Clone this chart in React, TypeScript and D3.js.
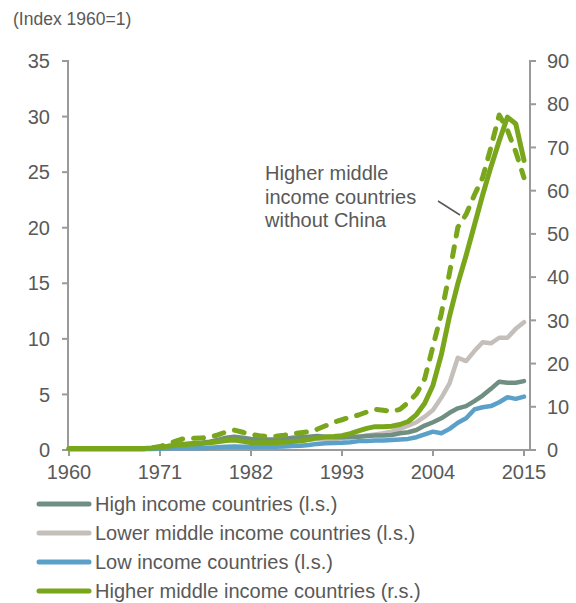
import React from "react";
import * as d3 from "d3";

const years = d3.range(1960, 2016);

// left scale (index 1960=1)
const highIncome = [
  0.1, 0.1, 0.1, 0.1, 0.1, 0.1, 0.1, 0.1, 0.1, 0.1,
  0.15, 0.2, 0.3, 0.45, 0.55, 0.6, 0.65, 0.75, 0.9, 1.1,
  1.2, 1.1, 1.0, 0.95, 0.95, 0.95, 1.0, 1.1, 1.15, 1.2,
  1.25, 1.2, 1.15, 1.15, 1.2, 1.2, 1.25, 1.3, 1.3, 1.35,
  1.5, 1.6, 1.8, 2.2, 2.5, 2.85, 3.35, 3.75, 3.95, 4.4,
  4.9, 5.5, 6.15, 6.05, 6.05, 6.2,
];
const lowerMiddle = [
  0.1, 0.1, 0.1, 0.1, 0.1, 0.1, 0.1, 0.1, 0.1, 0.1,
  0.15, 0.2, 0.3, 0.4, 0.5, 0.55, 0.6, 0.7, 0.8, 0.9,
  1.0, 0.9, 0.85, 0.8, 0.8, 0.8, 0.8, 0.85, 0.9, 0.95,
  1.0, 1.0, 1.0, 1.05, 1.1, 1.2, 1.3, 1.4, 1.5, 1.65,
  1.9, 2.2, 2.5, 3.0, 3.6, 4.7, 6.0, 8.3, 8.0, 8.9,
  9.7, 9.6, 10.1, 10.1, 10.9, 11.5,
];
const lowIncome = [
  0.1, 0.1, 0.1, 0.1, 0.1, 0.1, 0.1, 0.1, 0.1, 0.1,
  0.1, 0.12, 0.15, 0.15, 0.15, 0.15, 0.15, 0.2, 0.25, 0.3,
  0.32, 0.3, 0.3, 0.3, 0.3, 0.3, 0.32, 0.35, 0.38, 0.45,
  0.55, 0.6, 0.62, 0.65, 0.7, 0.8, 0.82, 0.85, 0.85, 0.9,
  0.95, 1.0, 1.15, 1.4, 1.65, 1.5, 1.9, 2.45, 2.85, 3.65,
  3.85, 3.95, 4.3, 4.75, 4.6, 4.8,
];
// right scale
const higherMiddle = [
  0.35, 0.35, 0.35, 0.35, 0.35, 0.35, 0.35, 0.35, 0.35, 0.35,
  0.45, 0.6, 0.9, 1.1, 1.3, 1.4, 1.5, 1.7, 1.9, 2.2,
  2.3, 2.0, 1.7, 1.7, 1.7, 1.75, 1.8, 1.95, 2.1, 2.4,
  2.8, 3.0, 3.1, 3.3, 3.8, 4.4, 5.0, 5.4, 5.4, 5.5,
  5.9, 6.6, 8.2, 10.8, 15.0, 22, 31, 38.5, 45, 52,
  59, 65.5, 71.5, 77, 75.5, 67,
];
const higherMiddleExChina = [
  0.35, 0.35, 0.35, 0.35, 0.35, 0.35, 0.35, 0.35, 0.35, 0.35,
  0.5, 0.8, 1.4, 2.1, 2.7, 2.7, 2.8, 2.9, 3.5, 4.2,
  4.6, 4.1, 3.6, 3.3, 3.1, 3.2, 3.4, 3.8, 4.0, 4.2,
  4.8, 5.6, 6.4, 7.0, 7.6, 8.1, 8.8, 9.4, 9.2, 8.9,
  9.4, 11.0, 13.0, 16.5, 24, 31.5, 41, 51.5, 54.5, 59,
  63, 70, 77.5, 74, 69, 63,
];

const xTicks = [1960, 1971, 1982, 1993, 2004, 2015];
const leftTicks = [0, 5, 10, 15, 20, 25, 30, 35];
const rightTicks = [0, 10, 20, 30, 40, 50, 60, 70, 80, 90];

const legendLabels = [
  "High income countries (l.s.)",
  "Lower middle income countries (l.s.)",
  "Low income countries (l.s.)",
  "Higher middle income countries (r.s.)",
];
const annotation = ["Higher middle", "income countries", "without China"];

const colors = ["#718e82", "#c4bfba", "#5ba0c8", "#79a61b"];
const textColor = "#595959";
const axisColor = "#9a9a9a";
const font = "'Liberation Sans', Arial, sans-serif";

export default function App() {
  const x = d3.scaleLinear().domain([1960, 2015]).range([69, 524]);
  const yL = d3.scaleLinear().domain([0, 35]).range([450, 61]);
  const yR = d3.scaleLinear().domain([0, 90]).range([450, 61]);

  const lineL = d3
    .line<number>()
    .x((_, i) => x(years[i]))
    .y((d) => yL(d));
  const lineR = d3
    .line<number>()
    .x((_, i) => x(years[i]))
    .y((d) => yR(d));

  const left = [highIncome, lowerMiddle, lowIncome];
  const order = [1, 0, 2];

  return (
    <>
      <style>{`body{margin:0}`}</style>
      <svg width={576} height={603} style={{ display: "block" }} fontFamily={font}>
        <rect width={576} height={603} fill="#fff" />
        <text x={13} y={25} fontSize={17.5} fill={textColor}>
          (Index 1960=1)
        </text>

        {/* axes */}
        <g stroke={axisColor} strokeWidth={2} fill="none">
          <line x1={68} x2={68} y1={60} y2={451} />
          <line x1={530} x2={530} y1={60} y2={451} />
          <line x1={67} x2={531} y1={450} y2={450} />
          {leftTicks.map((t) => (
            <line key={"l" + t} x1={62} x2={68} y1={yL(t)} y2={yL(t)} />
          ))}
          {rightTicks.map((t) => (
            <line key={"r" + t} x1={530} x2={536} y1={yR(t)} y2={yR(t)} />
          ))}
          {xTicks.map((t) => (
            <line key={"x" + t} x1={x(t)} x2={x(t)} y1={450} y2={456} />
          ))}
        </g>
        <g fontSize={20} fill={textColor}>
          {leftTicks.map((t) => (
            <text key={t} x={50} y={yL(t)} dy="0.36em" textAnchor="end">
              {t}
            </text>
          ))}
          {rightTicks.map((t) => (
            <text key={t} x={547} y={yR(t)} dy="0.36em">
              {t}
            </text>
          ))}
          {xTicks.map((t) => (
            <text key={t} x={x(t)} y={479} textAnchor="middle">
              {t}
            </text>
          ))}
        </g>

        {/* series */}
        <g fill="none" strokeLinejoin="round" strokeLinecap="round">
          {order.map((i) => (
            <path key={i} d={lineL(left[i]) ?? ""} stroke={colors[i]} strokeWidth={4.5} />
          ))}
          <path d={lineR(higherMiddle) ?? ""} stroke={colors[3]} strokeWidth={5} />
          <path
            d={lineR(higherMiddleExChina) ?? ""}
            stroke={colors[3]}
            strokeWidth={5}
            strokeDasharray="10 11"
          />
        </g>

        {/* annotation */}
        <g fontSize={20} fill={textColor}>
          {annotation.map((s, i) => (
            <text key={s} x={265} y={180 + i * 23.5}>
              {s}
            </text>
          ))}
        </g>
        <line x1={438} y1={201} x2={460} y2={215} stroke={textColor} strokeWidth={1.5} />

        {/* legend */}
        <g fontSize={20} fill={textColor}>
          {legendLabels.map((s, i) => (
            <g key={s} transform={`translate(0,${504 + i * 29})`}>
              <line x1={39} x2={89} stroke={colors[i]} strokeWidth={5} strokeLinecap="round" />
              <text x={95} y={7}>
                {s}
              </text>
            </g>
          ))}
        </g>
      </svg>
    </>
  );
}
